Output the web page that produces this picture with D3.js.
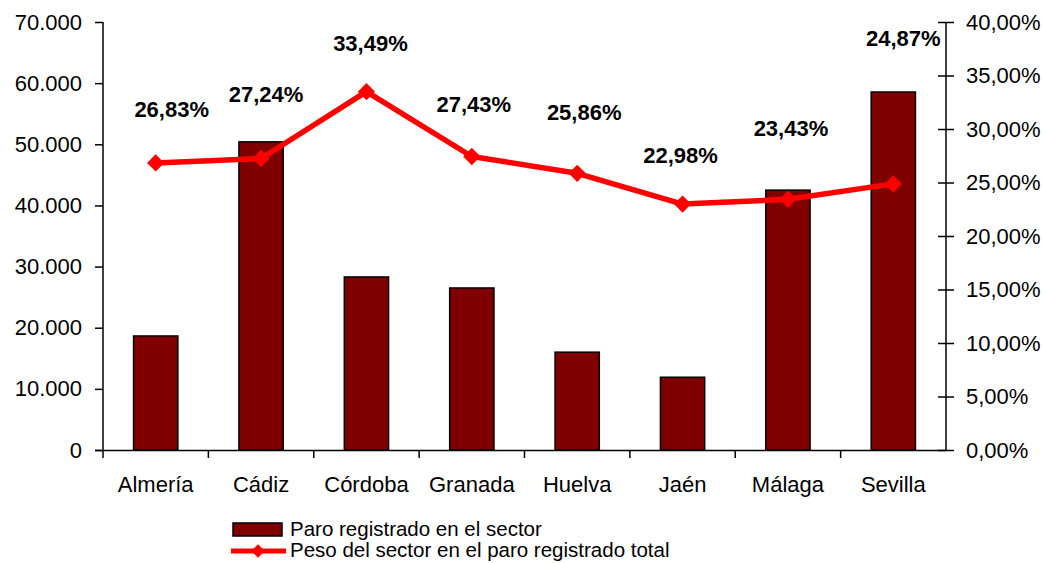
<!DOCTYPE html>
<html>
<head>
<meta charset="utf-8">
<script src="https://cdn.jsdelivr.net/npm/d3@7"></script>
<style>
  body { margin: 0; background: #fff; }
  svg { display: block; font-family: "Liberation Sans", Arial, sans-serif; }
</style>
</head>
<body>
<svg id="chart" width="1045" height="563"></svg>
<script>
// data
const provincias = ["Almería", "Cádiz", "Córdoba", "Granada", "Huelva", "Jaén", "Málaga", "Sevilla"];
const paro = [18650, 50400, 28300, 26500, 16000, 11900, 42500, 58550];
const peso = [26.83, 27.24, 33.49, 27.43, 25.86, 22.98, 23.43, 24.87];
const leftTicks = [0, 10000, 20000, 30000, 40000, 50000, 60000, 70000];
const rightTicks = [0, 5, 10, 15, 20, 25, 30, 35, 40];

// manual label placement (Excel labels were dragged around)
const labelDx = [16, 5, 4, 2, 7, -2, 3, 10];
const labelDy = [-54, -64, -49, -52, -61, -49, -71, -146];

const svg = d3.select("#chart");
const margin = { top: 22, right: 99, bottom: 113, left: 103 };
const width = +svg.attr("width"), height = +svg.attr("height");
const x0 = margin.left, x1 = width - margin.right;
const yBot = height - margin.bottom, yTop = margin.top;

const fmtLeft = d => d === 0 ? "0" : d3.format(",")(d).replace(/,/g, ".");
const fmtPct = d => d.toFixed(2).replace(".", ",") + "%";

const x = d3.scaleBand().domain(provincias).range([x0, x1]).padding(0);
const y = d3.scaleLinear().domain([0, 70000]).range([yBot, yTop]);
const y2 = d3.scaleLinear().domain([0, 40]).range([yBot, yTop]);

const barW = x.bandwidth() * 0.42;

// bars
svg.append("g").selectAll("rect")
  .data(provincias)
  .enter().append("rect")
  .attr("x", d => x(d) + x.bandwidth() / 2 - barW / 2)
  .attr("y", (d, i) => y(paro[i]))
  .attr("width", barW)
  .attr("height", (d, i) => yBot - y(paro[i]))
  .attr("fill", "#800000")
  .attr("stroke", "#000")
  .attr("stroke-width", 1.5);

// left axis
const gl = svg.append("g")
  .attr("transform", `translate(${x0},0)`)
  .call(d3.axisLeft(y).tickValues(leftTicks).tickFormat(fmtLeft).tickSize(8).tickPadding(13));

// right axis (ticks cross the line)
const gr = svg.append("g")
  .attr("transform", `translate(${x1},0)`)
  .call(d3.axisRight(y2).tickValues(rightTicks).tickFormat(fmtPct).tickSize(8).tickPadding(12));
gr.selectAll(".tick line").attr("x1", -8);

// bottom axis, ticks between categories
const gb = svg.append("g")
  .attr("transform", `translate(0,${yBot})`)
  .call(d3.axisBottom(x).tickSize(0).tickPadding(26));
gb.select(".domain").attr("d", `M${x0 - 8},0.5H${x1}`);
gb.selectAll(".bound")
  .data(provincias.slice(1))
  .enter().append("line")
  .attr("class", "bound")
  .attr("x1", d => x(d)).attr("x2", d => x(d))
  .attr("y1", 0).attr("y2", 8)
  .attr("stroke", "#000").attr("stroke-width", 1.5);
gb.append("line")
  .attr("x1", x0).attr("x2", x0).attr("y1", 0).attr("y2", 8)
  .attr("stroke", "#000").attr("stroke-width", 1.5);

[gl, gr, gb].forEach(g => {
  g.selectAll(".domain").attr("stroke", "#000").attr("stroke-width", 1.5);
  g.selectAll(".tick line").attr("stroke", "#000").attr("stroke-width", 1.5);
  g.selectAll(".tick text").attr("font-size", 22).attr("fill", "#000")
    .attr("font-family", "Liberation Sans, Arial, sans-serif");
});
gl.select(".domain").attr("d", `M0,${yTop}V${yBot}`);
gr.select(".domain").attr("d", `M0,${yTop}V${yBot}`);

// line
const cx = d => x(d) + x.bandwidth() / 2;
const line = d3.line().x(d => cx(d)).y((d, i) => y2(peso[i]));
svg.append("path")
  .datum(provincias)
  .attr("d", line)
  .attr("fill", "none")
  .attr("stroke", "#ff0000")
  .attr("stroke-width", 5.5)
  .attr("stroke-linejoin", "round");

const diamond = d3.symbol().type(d3.symbolSquare).size(150);
svg.append("g").selectAll("path")
  .data(provincias)
  .enter().append("path")
  .attr("d", diamond)
  .attr("transform", (d, i) => `translate(${cx(d)},${y2(peso[i])}) rotate(45)`)
  .attr("fill", "#ff0000");

// labels
svg.append("g").selectAll("text")
  .data(provincias)
  .enter().append("text")
  .attr("x", (d, i) => cx(d) + labelDx[i])
  .attr("y", (d, i) => y2(peso[i]) + labelDy[i])
  .attr("dy", "0.36em")
  .attr("text-anchor", "middle")
  .attr("font-size", 22)
  .attr("font-weight", "bold")
  .text((d, i) => fmtPct(peso[i]));

// legend
const lg = svg.append("g");
lg.append("rect")
  .attr("x", 233).attr("y", 523).attr("width", 49).attr("height", 13)
  .attr("fill", "#800000").attr("stroke", "#000").attr("stroke-width", 1.5);
lg.append("text").attr("x", 290).attr("y", 536).attr("font-size", 20.5).text("Paro registrado en el sector");
lg.append("line")
  .attr("x1", 231).attr("x2", 286).attr("y1", 551).attr("y2", 551)
  .attr("stroke", "#ff0000").attr("stroke-width", 5);
lg.append("path")
  .attr("d", d3.symbol().type(d3.symbolSquare).size(90))
  .attr("transform", "translate(258,551) rotate(45)")
  .attr("fill", "#ff0000");
lg.append("text").attr("x", 290).attr("y", 557).attr("font-size", 20.5).text("Peso del sector en el paro registrado total");
</script>
</body>
</html>
